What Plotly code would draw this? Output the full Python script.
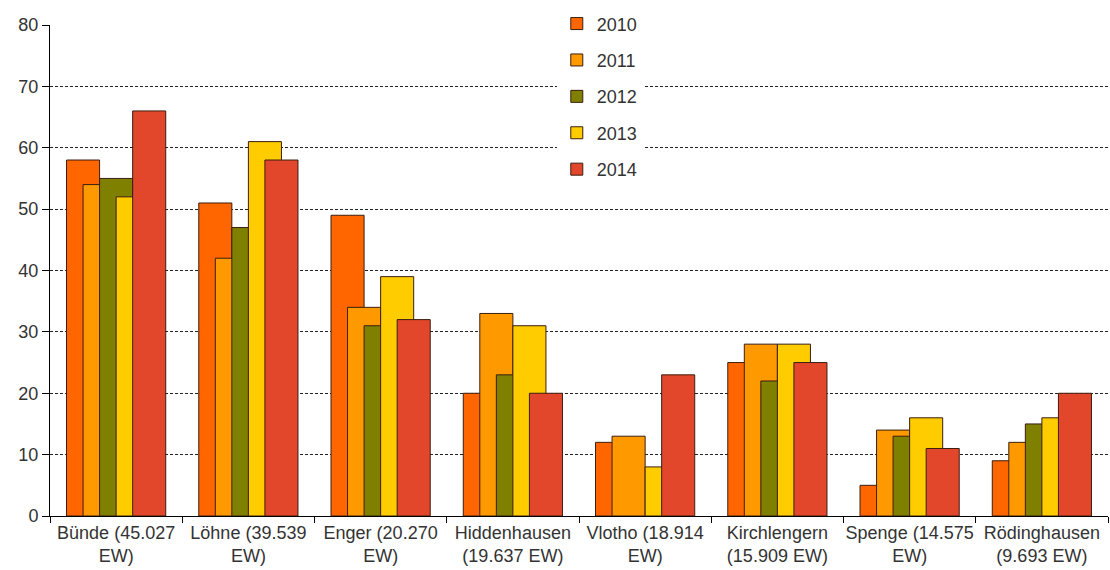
import plotly.graph_objects as go

# Gemeinden (Einwohnerzahl) entlang der x-Achse
categories = [
    "Bünde (45.027<br>EW)",
    "Löhne (39.539<br>EW)",
    "Enger (20.270<br>EW)",
    "Hiddenhausen<br>(19.637 EW)",
    "Vlotho (18.914<br>EW)",
    "Kirchlengern<br>(15.909 EW)",
    "Spenge (14.575<br>EW)",
    "Rödinghausen<br>(9.693 EW)",
]

years = ["2010", "2011", "2012", "2013", "2014"]

values_2010 = [58, 51, 49, 20, 12, 25, 5, 9]
values_2011 = [54, 42, 34, 33, 13, 28, 14, 12]
values_2012 = [55, 47, 31, 23, None, 22, 13, 15]
values_2013 = [52, 61, 39, 31, 8, 28, 16, 16]
values_2014 = [66, 58, 32, 20, 23, 25, 11, 20]

y_ticks = [0, 10, 20, 30, 40, 50, 60, 70, 80]

series = [values_2010, values_2011, values_2012, values_2013, values_2014]
colors = ["#FF6600", "#FF9900", "#7F7F00", "#FFCC00", "#E2472B"]

FONT = "Liberation Sans, Arial, sans-serif"
TEXT = "#333333"

fig = go.Figure()

# overlapping columns: each bar is a quarter category wide, shifted by half a bar
bar_w = 0.25
step = 0.125
for k, (year, vals, col) in enumerate(zip(years, series, colors)):
    fig.add_trace(go.Bar(
        name=year,
        x=categories,
        y=vals,
        width=bar_w,
        offset=-0.375 + step * k,
        marker=dict(color=col, line=dict(color="#3A1E10", width=1)),
        legendgroup=year,
    ))

fig.update_layout(
    width=1110,
    height=570,
    barmode="overlay",
    plot_bgcolor="white",
    paper_bgcolor="white",
    margin=dict(l=50, r=2, t=25, b=54),
    font=dict(family=FONT, size=18, color=TEXT),
    legend=dict(
        x=0.479,
        y=1.04,
        xanchor="left",
        yanchor="top",
        bgcolor="white",
        borderwidth=0,
        font=dict(size=18, color=TEXT),
        tracegroupgap=10,
        itemwidth=30,
    ),
    xaxis=dict(
        type="category",
        showline=True,
        linecolor="black",
        linewidth=1,
        ticks="outside",
        tickson="boundaries",
        ticklen=6,
        tickcolor="black",
        tickangle=0,
        automargin=False,
        showgrid=False,
        tickfont=dict(size=18, color=TEXT),
    ),
    yaxis=dict(
        range=[0, 80],
        tickvals=y_ticks,
        showline=True,
        linecolor="black",
        linewidth=1,
        ticks="outside",
        ticklen=7,
        tickcolor="black",
        automargin=False,
        showgrid=True,
        gridcolor="#222222",
        gridwidth=1,
        griddash="3px,2px",
        zeroline=False,
        tickfont=dict(size=18, color=TEXT),
    ),
)

fig.write_html("out.html")
